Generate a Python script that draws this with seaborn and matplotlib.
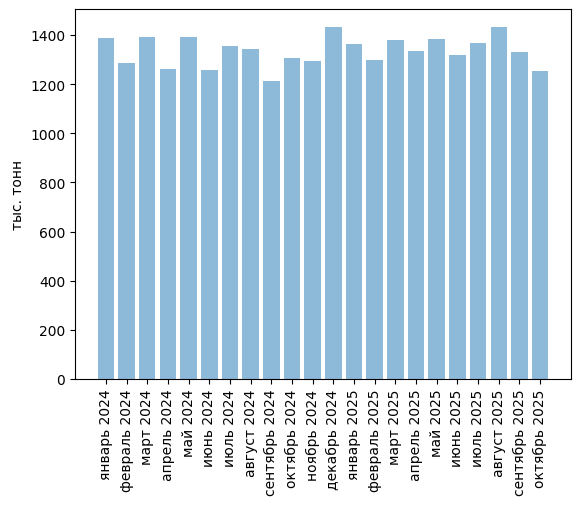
import pandas as pd
import matplotlib
matplotlib.use("Agg")
import matplotlib.pyplot as plt
import seaborn as sns

# месяцы и объемы (тыс. тонн)
months = ["январь 2024", "февраль 2024", "март 2024", "апрель 2024", "май 2024",
          "июнь 2024", "июль 2024", "август 2024", "сентябрь 2024", "октябрь 2024",
          "ноябрь 2024", "декабрь 2024", "январь 2025", "февраль 2025", "март 2025",
          "апрель 2025", "май 2025", "июнь 2025", "июль 2025", "август 2025",
          "сентябрь 2025", "октябрь 2025"]
values = [1389, 1287, 1392, 1263, 1392, 1259, 1357, 1344, 1214, 1308, 1295,
          1434, 1365, 1300, 1381, 1336, 1385, 1320, 1369, 1434, 1332, 1255]

data = pd.DataFrame({"month": months, "value": values})

fig = plt.figure(figsize=(5.8, 5.06), dpi=100)
ax = fig.add_axes([75/580, 1-380/506, (571-75)/580, (380-10)/506])
sns.barplot(data=data, x="month", y="value", color="#1f77b4", saturation=1,
            alpha=0.5, linewidth=0, width=0.8, ax=ax)
ax.set_xlim(-1.49, 22.49)
ax.set_xlabel("")
ax.set_ylabel("тыс. тонн")
ax.tick_params(axis="x", rotation=90)
fig.savefig("out.png", dpi=100)
